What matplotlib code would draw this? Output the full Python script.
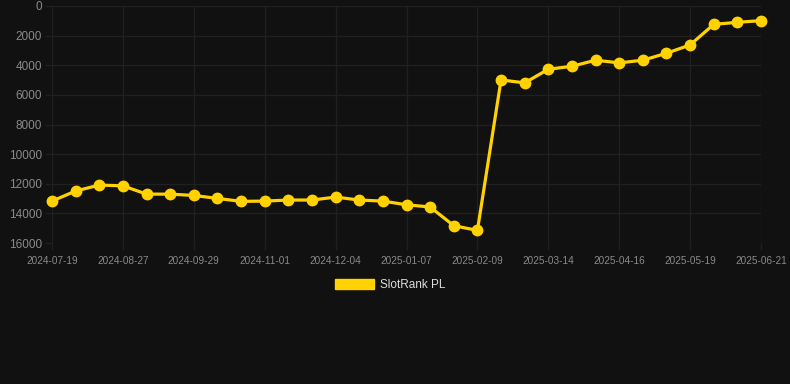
import matplotlib
matplotlib.use("Agg")
import matplotlib.pyplot as plt
import matplotlib.patches as mpatches

plt.rcParams['font.family'] = ['Liberation Sans', 'DejaVu Sans']

# rank values (one point per snapshot)
ranks = [13170, 12490, 12090, 12140, 12700, 12700, 12790, 12990, 13190, 13170,
         13100, 13100, 12900, 13100, 13170, 13420, 13570, 14830, 15150, 4990,
         5190, 4270, 4070, 3660, 3840, 3660, 3190, 2630, 1240, 1100, 990]
tick_labels = ["2024-07-19", "2024-08-27", "2024-09-29", "2024-11-01", "2024-12-04",
               "2025-01-07", "2025-02-09", "2025-03-14", "2025-04-16", "2025-05-19",
               "2025-06-21"]
tick_idx = [0, 3, 6, 9, 12, 15, 18, 21, 24, 27, 30]
y_ticks = [0, 2000, 4000, 6000, 8000, 10000, 12000, 14000, 16000]

bg = "#111111"
gold = "#FFD200"
gridc = "#202020"

fig = plt.figure(figsize=(7.9, 3.84), dpi=100, facecolor=bg)
ax = fig.add_axes([52/790, 1-243/384, (761-52)/790, (243-6)/384])
ax.set_facecolor(bg)

x = list(range(len(ranks)))
ax.plot(x, ranks, color=gold, lw=2.3, marker='o', ms=7.5, zorder=3, clip_on=False)

ax.set_xlim(0, len(ranks)-1)
ax.set_ylim(16000, 0)
ax.set_yticks(y_ticks)
ax.set_yticklabels([str(v) for v in y_ticks])
ax.set_xticks(tick_idx)
ax.set_xticklabels(tick_labels)

ax.grid(True, color=gridc, lw=1.0)
for s in ax.spines.values():
    s.set_visible(False)
ax.tick_params(axis='y', colors=gridc, labelcolor="#8a8a8a", labelsize=8.5, length=5, width=1.0, pad=2)
ax.tick_params(axis='x', colors=gridc, labelcolor="#8a8a8a", labelsize=7.2, length=5, width=1.0, pad=4)

handle = mpatches.Patch(color=gold, label="SlotRank PL")
leg = fig.legend(handles=[handle], loc='center', bbox_to_anchor=(390/790, 1-285/384),
                 frameon=False, fontsize=8.5, handlelength=3.3, handleheight=0.9,
                 handletextpad=0.5)
for t in leg.get_texts():
    t.set_color("#dddddd")

fig.savefig("out.png", dpi=100, facecolor=bg)
